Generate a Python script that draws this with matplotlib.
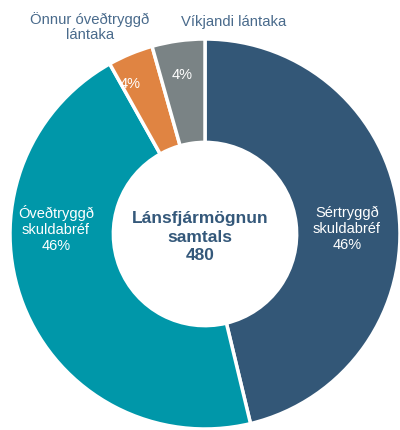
import matplotlib
matplotlib.use("Agg")
import matplotlib.pyplot as plt

plt.rcParams['font.family'] = ['Liberation Sans', 'DejaVu Sans']

categories = ["Sértryggð skuldabréf", "Óveðtryggð skuldabréf", "Önnur óveðtryggð lántaka", "Víkjandi lántaka"]
values = [222, 219, 18, 21]
pct_labels = ["46%", "46%", "4%", "4%"]
total = 480
colors = ["#335777", "#0097a9", "#e08442", "#7a8385"]

W, H = 400, 431
fig = plt.figure(figsize=(W/100, H/100), dpi=100)
ax = fig.add_axes([0, 0, 1, 1])

cx, cy, R = 205, H - 235, 195
ax.pie(values, colors=colors, startangle=90, counterclock=False,
       radius=R, center=(cx, cy),
       wedgeprops=dict(width=R*0.53, edgecolor="white", linewidth=2.5))
ax.set_xlim(0, W)
ax.set_ylim(0, H)
ax.set_aspect('equal')
ax.axis('off')

# inside labels
ax.text(347, H-229, "Sértryggð\nskuldabréf\n46%", color="white", ha="center", va="center", fontsize=10.5, linespacing=1.2)
ax.text(56, H-229, "Óveðtryggð\nskuldabréf\n46%", color="white", ha="center", va="center", fontsize=10.5, linespacing=1.2)
ax.text(130, H-84, pct_labels[2], color="white", ha="center", va="center", fontsize=10.5)
ax.text(182, H-75, pct_labels[3], color="white", ha="center", va="center", fontsize=10.5)

# outside labels
lab_col = "#4a6b8c"
ax.text(90, H-27, "Önnur óveðtryggð\nlántaka", color=lab_col, ha="center", va="center", fontsize=10.7, linespacing=1.1)
ax.text(234, H-22, "Víkjandi lántaka", color=lab_col, ha="center", va="center", fontsize=10.7)

# center
ax.text(200, H-237, "Lánsfjármögnun\nsamtals\n%d" % total, color="#34587a", ha="center", va="center",
        fontsize=12.5, fontweight="bold", linespacing=1.25)

fig.savefig("out.png", dpi=100)
